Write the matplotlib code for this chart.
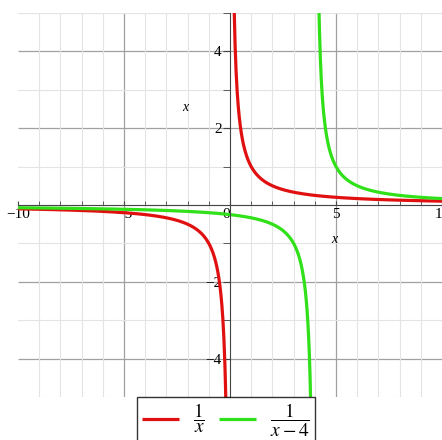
import numpy as np
import matplotlib.pyplot as plt
from matplotlib.ticker import MultipleLocator, FixedLocator, FixedFormatter

# plotting window and the two functions
x_range = (-10, 10)
y_range = (-5, 5)
poles = [0.0, 4.0]
labels = [r'$\dfrac{1}{x}$', r'$\dfrac{1}{x-4}$']
colors = ['#e01010', '#30e018']

x_ticks = [-10, -5, 0, 5, 10]
x_tick_labels = ['\u221210', '\u22125', '0', '5', '10']
y_ticks = [-4, -2, 2, 4]
y_tick_labels = ['\u22124', '\u22122', '2', '4']

plt.rcParams['font.family'] = ['Liberation Serif', 'DejaVu Serif']
plt.rcParams['mathtext.fontset'] = 'stix'

fig = plt.figure(figsize=(4.42, 4.40), dpi=100)
ax = fig.add_axes([18 / 442, 1 - 397 / 440, 424 / 442, 384 / 440])
ax.set_xlim(*x_range)
ax.set_ylim(*y_range)

# each branch is drawn separately so nothing joins across the asymptote
for pole, lab, col in zip(poles, labels, colors):
    left = np.linspace(x_range[0], pole - 0.19, 400)
    right = np.linspace(pole + 0.19, x_range[1], 400)
    ax.plot(left, 1 / (left - pole), color=col, lw=2.3, label=lab, solid_capstyle='butt')
    ax.plot(right, 1 / (right - pole), color=col, lw=2.3, solid_capstyle='butt')

# axes crossing at the origin
for side in ['top', 'right']:
    ax.spines[side].set_visible(False)
ax.spines['left'].set_position(('data', 0))
ax.spines['bottom'].set_position(('data', 0))
ax.spines['left'].set_color('#444444')
ax.spines['bottom'].set_color('#444444')

ax.xaxis.set_major_locator(FixedLocator(x_ticks))
ax.xaxis.set_major_formatter(FixedFormatter(x_tick_labels))
ax.yaxis.set_major_locator(FixedLocator(y_ticks))
ax.yaxis.set_major_formatter(FixedFormatter(y_tick_labels))
ax.xaxis.set_minor_locator(MultipleLocator(1))
ax.yaxis.set_minor_locator(MultipleLocator(1))
ax.tick_params(axis='x', which='both', direction='in', length=3, color='#444444',
               labelsize=11, pad=2)
ax.tick_params(axis='y', which='both', direction='out', length=5, color='#444444',
               labelsize=11, pad=1)

# the zero label sits just left of the vertical axis
for lbl in ax.get_xticklabels():
    if lbl.get_text() == '0':
        lbl.set_horizontalalignment('right')

ax.grid(which='minor', color='#e4e4e4', lw=0.8)
ax.set_axisbelow(True)
ax.vlines([-5, 5], *y_range, color='#a0a0a0', lw=0.9, zorder=0)
ax.hlines([-4, -2, 2, 4], *x_range, color='#a0a0a0', lw=0.9, zorder=0)

ax.text(0.745, 0.41, 'x', transform=ax.transAxes, fontsize=10, style='italic',
        ha='center', va='center')
ax.text(0.394, 0.753, 'x', transform=ax.transAxes, fontsize=10, style='italic',
        ha='center', va='center')

leg = fig.legend(loc='upper center', bbox_to_anchor=(226 / 442, 1 - 397 / 440),
                 ncol=2, fontsize=14, frameon=True, fancybox=False,
                 handlelength=1.9, handletextpad=0.7, columnspacing=0.75,
                 borderpad=0.25, borderaxespad=0)
leg.get_frame().set_edgecolor('black')
leg.get_frame().set_linewidth(1.0)

fig.savefig('out.png', dpi=100)
